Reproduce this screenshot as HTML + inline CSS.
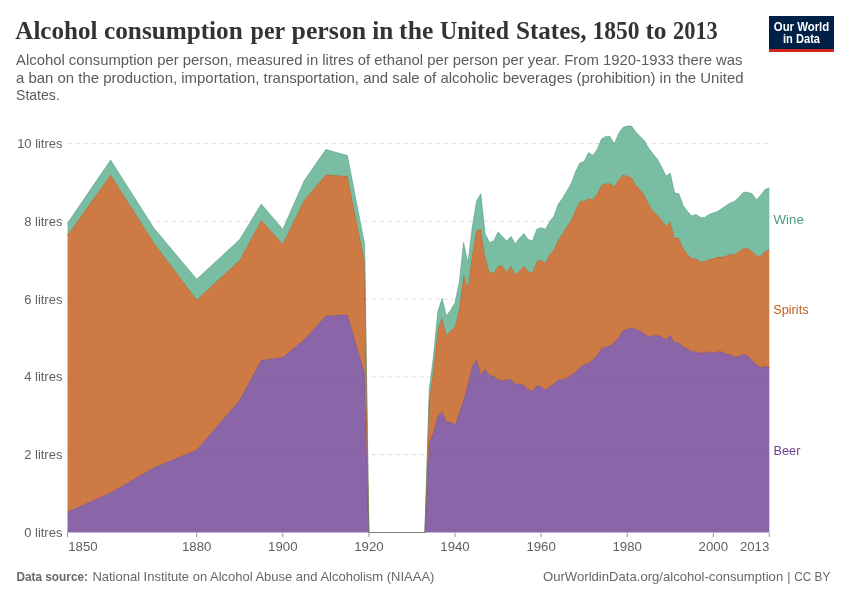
<!DOCTYPE html>
<html lang="en">
<head>
<meta charset="utf-8">
<title>Alcohol consumption per person in the United States, 1850 to 2013</title>
<style>
html,body{margin:0;padding:0;background:#fff;}
body{width:850px;height:600px;overflow:hidden;position:relative;font-family:"Liberation Sans",sans-serif;}
svg{position:absolute;left:0;top:0;display:block;}
text{font-family:"Liberation Sans",sans-serif;}
.title text{font-family:"Liberation Serif",serif;font-weight:bold;font-size:25.4px;fill:#333;}
.sub{font-size:14.6px;fill:#5b5b5b;}
.ax{font-size:13.5px;fill:#606060;}
.ft{font-size:12.4px;fill:#686868;}
.lg{font-size:13.3px;}
</style>
</head>
<body>
<svg width="850" height="600" viewBox="0 0 850 600">
<rect width="850" height="600" fill="#fff"/>
<!-- header -->
<g class="title" id="title">
<text x="15.3" y="38.8" textLength="82.1" lengthAdjust="spacingAndGlyphs">Alcohol</text>
<text x="104.1" y="38.8" textLength="138.6" lengthAdjust="spacingAndGlyphs">consumption</text>
<text x="250.6" y="38.8" textLength="34.7" lengthAdjust="spacingAndGlyphs">per</text>
<text x="291.5" y="38.8" textLength="74.7" lengthAdjust="spacingAndGlyphs">person</text>
<text x="372.3" y="38.8" textLength="21.0" lengthAdjust="spacingAndGlyphs">in</text>
<text x="399.1" y="38.8" textLength="34.2" lengthAdjust="spacingAndGlyphs">the</text>
<text x="440.0" y="38.8" textLength="68.9" lengthAdjust="spacingAndGlyphs">United</text>
<text x="515.9" y="38.8" textLength="70.6" lengthAdjust="spacingAndGlyphs">States,</text>
<text x="592.5" y="38.8" textLength="47.0" lengthAdjust="spacingAndGlyphs">1850</text>
<text x="645.4" y="38.8" textLength="21.2" lengthAdjust="spacingAndGlyphs">to</text>
<text x="673.0" y="38.8" textLength="44.8" lengthAdjust="spacingAndGlyphs">2013</text>
</g>
<text class="sub" x="16" y="64.6" textLength="726.5" lengthAdjust="spacingAndGlyphs">Alcohol consumption per person, measured in litres of ethanol per person per year. From 1920-1933 there was</text>
<text class="sub" x="16" y="82.5" textLength="727.5" lengthAdjust="spacingAndGlyphs">a ban on the production, importation, transportation, and sale of alcoholic beverages (prohibition) in the United</text>
<text class="sub" x="16" y="100.4" textLength="43.8" lengthAdjust="spacingAndGlyphs">States.</text>
<!-- logo -->
<g id="logo">
<rect x="769" y="16" width="65" height="36" fill="#002147"/>
<rect x="769" y="49" width="65" height="3" fill="#ce261e"/>
<text x="801.5" y="30.5" text-anchor="middle" font-size="12.9" font-weight="bold" fill="#fff" textLength="55.4" lengthAdjust="spacingAndGlyphs">Our World</text>
<text x="801.5" y="42.5" text-anchor="middle" font-size="12.9" font-weight="bold" fill="#fff" textLength="37" lengthAdjust="spacingAndGlyphs">in Data</text>
</g>
<!-- grid -->
<g id="grid" stroke="#ddd" stroke-width="1" stroke-dasharray="4.2,3.8" fill="none">
<line x1="67.4" x2="769.3" y1="143.5" y2="143.5"/>
<line x1="67.4" x2="769.3" y1="221.3" y2="221.3"/>
<line x1="67.4" x2="769.3" y1="299.1" y2="299.1"/>
<line x1="67.4" x2="769.3" y1="376.9" y2="376.9"/>
<line x1="67.4" x2="769.3" y1="454.7" y2="454.7"/>
</g>
<!-- areas -->
<g id="areas">
<path d="M67.5,511.9 L110.6,492.7 L153.6,467.7 L196.7,450.0 L239.7,400.0 L261.2,360.2 L282.8,357.3 L304.3,339.6 L325.8,316.0 L347.4,314.6 L364.6,373.5 L368.9,532.5 L424.9,532.5 L429.2,442.7 L433.5,432.4 L437.8,416.2 L442.1,411.8 L446.4,422.1 L450.7,422.1 L455.0,425.0 L459.3,413.2 L463.6,400.0 L467.9,385.2 L472.2,366.1 L476.5,360.2 L480.8,374.9 L485.1,369.0 L489.4,374.9 L493.7,376.4 L498.1,379.4 L502.4,380.8 L506.7,379.4 L511.0,379.4 L515.3,383.8 L519.6,383.8 L523.9,385.2 L528.2,389.7 L532.5,391.1 L536.8,385.2 L541.1,386.7 L545.4,389.7 L549.7,386.7 L554.0,383.8 L558.3,379.4 L562.6,379.4 L566.9,377.9 L571.2,374.9 L575.6,372.0 L579.9,367.6 L584.2,364.6 L588.5,363.2 L592.8,359.5 L597.1,355.8 L601.4,348.4 L605.7,347.0 L610.0,345.5 L614.3,342.5 L618.6,337.4 L622.9,330.8 L627.2,329.3 L631.5,327.8 L635.8,329.3 L640.1,330.8 L644.4,333.7 L648.7,336.7 L653.1,335.2 L657.4,335.2 L661.7,336.7 L666.0,339.6 L670.3,335.2 L674.6,342.5 L678.9,342.5 L683.2,347.0 L687.5,348.4 L691.8,351.4 L696.1,351.4 L700.4,352.9 L704.7,352.9 L709.0,351.4 L713.3,352.9 L717.6,351.4 L721.9,351.4 L726.2,354.3 L730.6,354.3 L734.9,357.3 L739.2,355.8 L743.5,354.3 L747.8,355.8 L752.1,360.2 L756.4,364.6 L760.7,367.6 L765.0,366.1 L769.3,367.6 L769.3,532.5 L765.0,532.5 L760.7,532.5 L756.4,532.5 L752.1,532.5 L747.8,532.5 L743.5,532.5 L739.2,532.5 L734.9,532.5 L730.6,532.5 L726.2,532.5 L721.9,532.5 L717.6,532.5 L713.3,532.5 L709.0,532.5 L704.7,532.5 L700.4,532.5 L696.1,532.5 L691.8,532.5 L687.5,532.5 L683.2,532.5 L678.9,532.5 L674.6,532.5 L670.3,532.5 L666.0,532.5 L661.7,532.5 L657.4,532.5 L653.1,532.5 L648.7,532.5 L644.4,532.5 L640.1,532.5 L635.8,532.5 L631.5,532.5 L627.2,532.5 L622.9,532.5 L618.6,532.5 L614.3,532.5 L610.0,532.5 L605.7,532.5 L601.4,532.5 L597.1,532.5 L592.8,532.5 L588.5,532.5 L584.2,532.5 L579.9,532.5 L575.6,532.5 L571.2,532.5 L566.9,532.5 L562.6,532.5 L558.3,532.5 L554.0,532.5 L549.7,532.5 L545.4,532.5 L541.1,532.5 L536.8,532.5 L532.5,532.5 L528.2,532.5 L523.9,532.5 L519.6,532.5 L515.3,532.5 L511.0,532.5 L506.7,532.5 L502.4,532.5 L498.1,532.5 L493.7,532.5 L489.4,532.5 L485.1,532.5 L480.8,532.5 L476.5,532.5 L472.2,532.5 L467.9,532.5 L463.6,532.5 L459.3,532.5 L455.0,532.5 L450.7,532.5 L446.4,532.5 L442.1,532.5 L437.8,532.5 L433.5,532.5 L429.2,532.5 L424.9,532.5 L368.9,532.5 L364.6,532.5 L347.4,532.5 L325.8,532.5 L304.3,532.5 L282.8,532.5 L261.2,532.5 L239.7,532.5 L196.7,532.5 L153.6,532.5 L110.6,532.5 L67.5,532.5Z" fill="#6d3e91" fill-opacity="0.8" stroke="none"/>
<path d="M67.5,511.9 L110.6,492.7 L153.6,467.7 L196.7,450.0 L239.7,400.0 L261.2,360.2 L282.8,357.3 L304.3,339.6 L325.8,316.0 L347.4,314.6 L364.6,373.5 L368.9,532.5 L424.9,532.5 L429.2,442.7 L433.5,432.4 L437.8,416.2 L442.1,411.8 L446.4,422.1 L450.7,422.1 L455.0,425.0 L459.3,413.2 L463.6,400.0 L467.9,385.2 L472.2,366.1 L476.5,360.2 L480.8,374.9 L485.1,369.0 L489.4,374.9 L493.7,376.4 L498.1,379.4 L502.4,380.8 L506.7,379.4 L511.0,379.4 L515.3,383.8 L519.6,383.8 L523.9,385.2 L528.2,389.7 L532.5,391.1 L536.8,385.2 L541.1,386.7 L545.4,389.7 L549.7,386.7 L554.0,383.8 L558.3,379.4 L562.6,379.4 L566.9,377.9 L571.2,374.9 L575.6,372.0 L579.9,367.6 L584.2,364.6 L588.5,363.2 L592.8,359.5 L597.1,355.8 L601.4,348.4 L605.7,347.0 L610.0,345.5 L614.3,342.5 L618.6,337.4 L622.9,330.8 L627.2,329.3 L631.5,327.8 L635.8,329.3 L640.1,330.8 L644.4,333.7 L648.7,336.7 L653.1,335.2 L657.4,335.2 L661.7,336.7 L666.0,339.6 L670.3,335.2 L674.6,342.5 L678.9,342.5 L683.2,347.0 L687.5,348.4 L691.8,351.4 L696.1,351.4 L700.4,352.9 L704.7,352.9 L709.0,351.4 L713.3,352.9 L717.6,351.4 L721.9,351.4 L726.2,354.3 L730.6,354.3 L734.9,357.3 L739.2,355.8 L743.5,354.3 L747.8,355.8 L752.1,360.2 L756.4,364.6 L760.7,367.6 L765.0,366.1 L769.3,367.6" fill="none" stroke="#5b3479" stroke-width="0.7" stroke-opacity="0.7" stroke-linecap="round"/>
<path d="M67.5,235.1 L110.6,174.7 L153.6,242.4 L196.7,299.8 L239.7,260.1 L261.2,220.3 L282.8,243.9 L304.3,199.7 L325.8,174.7 L347.4,176.1 L364.6,261.6 L368.9,532.5 L424.9,532.5 L429.2,400.0 L433.5,369.0 L437.8,329.3 L442.1,317.5 L446.4,335.2 L450.7,330.8 L455.0,326.3 L459.3,308.7 L463.6,274.8 L467.9,288.1 L472.2,254.2 L476.5,230.6 L480.8,229.2 L485.1,257.1 L489.4,271.9 L493.7,273.3 L498.1,266.0 L502.4,266.0 L506.7,271.9 L511.0,266.0 L515.3,274.8 L519.6,270.4 L523.9,266.0 L528.2,271.3 L532.5,272.5 L536.8,261.4 L541.1,260.1 L545.4,263.0 L549.7,254.2 L554.0,249.8 L558.3,239.5 L562.6,233.6 L566.9,226.2 L571.2,220.3 L575.6,210.0 L579.9,201.2 L584.2,201.2 L588.5,198.5 L592.8,199.4 L597.1,194.1 L601.4,185.3 L605.7,183.5 L610.0,183.5 L614.3,186.5 L618.6,180.0 L622.9,174.7 L627.2,176.1 L631.5,177.6 L635.8,185.0 L640.1,189.4 L644.4,195.3 L648.7,204.1 L653.1,211.0 L657.4,214.9 L661.7,220.3 L666.0,226.2 L670.3,221.8 L674.6,238.0 L678.9,238.0 L683.2,248.3 L687.5,254.2 L691.8,258.6 L696.1,258.6 L700.4,261.6 L704.7,261.6 L709.0,259.3 L713.3,258.6 L717.6,257.1 L721.9,257.1 L726.2,255.7 L730.6,254.2 L734.9,254.2 L739.2,251.2 L743.5,248.3 L747.8,248.3 L752.1,251.2 L756.4,255.7 L760.7,255.7 L765.0,251.2 L769.3,249.8 L769.3,367.6 L765.0,366.1 L760.7,367.6 L756.4,364.6 L752.1,360.2 L747.8,355.8 L743.5,354.3 L739.2,355.8 L734.9,357.3 L730.6,354.3 L726.2,354.3 L721.9,351.4 L717.6,351.4 L713.3,352.9 L709.0,351.4 L704.7,352.9 L700.4,352.9 L696.1,351.4 L691.8,351.4 L687.5,348.4 L683.2,347.0 L678.9,342.5 L674.6,342.5 L670.3,335.2 L666.0,339.6 L661.7,336.7 L657.4,335.2 L653.1,335.2 L648.7,336.7 L644.4,333.7 L640.1,330.8 L635.8,329.3 L631.5,327.8 L627.2,329.3 L622.9,330.8 L618.6,337.4 L614.3,342.5 L610.0,345.5 L605.7,347.0 L601.4,348.4 L597.1,355.8 L592.8,359.5 L588.5,363.2 L584.2,364.6 L579.9,367.6 L575.6,372.0 L571.2,374.9 L566.9,377.9 L562.6,379.4 L558.3,379.4 L554.0,383.8 L549.7,386.7 L545.4,389.7 L541.1,386.7 L536.8,385.2 L532.5,391.1 L528.2,389.7 L523.9,385.2 L519.6,383.8 L515.3,383.8 L511.0,379.4 L506.7,379.4 L502.4,380.8 L498.1,379.4 L493.7,376.4 L489.4,374.9 L485.1,369.0 L480.8,374.9 L476.5,360.2 L472.2,366.1 L467.9,385.2 L463.6,400.0 L459.3,413.2 L455.0,425.0 L450.7,422.1 L446.4,422.1 L442.1,411.8 L437.8,416.2 L433.5,432.4 L429.2,442.7 L424.9,532.5 L368.9,532.5 L364.6,373.5 L347.4,314.6 L325.8,316.0 L304.3,339.6 L282.8,357.3 L261.2,360.2 L239.7,400.0 L196.7,450.0 L153.6,467.7 L110.6,492.7 L67.5,511.9Z" fill="#c05917" fill-opacity="0.8" stroke="none"/>
<path d="M67.5,235.1 L110.6,174.7 L153.6,242.4 L196.7,299.8 L239.7,260.1 L261.2,220.3 L282.8,243.9 L304.3,199.7 L325.8,174.7 L347.4,176.1 L364.6,261.6 L368.9,532.5 L424.9,532.5 L429.2,400.0 L433.5,369.0 L437.8,329.3 L442.1,317.5 L446.4,335.2 L450.7,330.8 L455.0,326.3 L459.3,308.7 L463.6,274.8 L467.9,288.1 L472.2,254.2 L476.5,230.6 L480.8,229.2 L485.1,257.1 L489.4,271.9 L493.7,273.3 L498.1,266.0 L502.4,266.0 L506.7,271.9 L511.0,266.0 L515.3,274.8 L519.6,270.4 L523.9,266.0 L528.2,271.3 L532.5,272.5 L536.8,261.4 L541.1,260.1 L545.4,263.0 L549.7,254.2 L554.0,249.8 L558.3,239.5 L562.6,233.6 L566.9,226.2 L571.2,220.3 L575.6,210.0 L579.9,201.2 L584.2,201.2 L588.5,198.5 L592.8,199.4 L597.1,194.1 L601.4,185.3 L605.7,183.5 L610.0,183.5 L614.3,186.5 L618.6,180.0 L622.9,174.7 L627.2,176.1 L631.5,177.6 L635.8,185.0 L640.1,189.4 L644.4,195.3 L648.7,204.1 L653.1,211.0 L657.4,214.9 L661.7,220.3 L666.0,226.2 L670.3,221.8 L674.6,238.0 L678.9,238.0 L683.2,248.3 L687.5,254.2 L691.8,258.6 L696.1,258.6 L700.4,261.6 L704.7,261.6 L709.0,259.3 L713.3,258.6 L717.6,257.1 L721.9,257.1 L726.2,255.7 L730.6,254.2 L734.9,254.2 L739.2,251.2 L743.5,248.3 L747.8,248.3 L752.1,251.2 L756.4,255.7 L760.7,255.7 L765.0,251.2 L769.3,249.8" fill="none" stroke="#a14a13" stroke-width="0.7" stroke-opacity="0.7" stroke-linecap="round"/>
<path d="M67.5,223.3 L110.6,160.0 L153.6,227.7 L196.7,279.2 L239.7,239.5 L261.2,204.1 L282.8,229.2 L304.3,180.6 L325.8,149.6 L347.4,155.5 L364.6,243.9 L368.9,532.5 L424.9,532.5 L429.2,389.7 L433.5,355.8 L437.8,311.6 L442.1,298.4 L446.4,316.0 L450.7,310.1 L455.0,302.8 L459.3,282.2 L463.6,242.4 L467.9,263.0 L472.2,227.7 L476.5,201.2 L480.8,193.8 L485.1,233.6 L489.4,242.4 L493.7,240.9 L498.1,232.1 L502.4,236.5 L506.7,240.9 L511.0,236.5 L515.3,243.9 L519.6,238.0 L523.9,233.6 L528.2,239.5 L532.5,240.9 L536.8,229.2 L541.1,227.7 L545.4,229.2 L549.7,221.8 L554.0,215.9 L558.3,204.1 L562.6,198.2 L566.9,190.9 L571.2,183.5 L575.6,171.7 L579.9,162.9 L584.2,161.4 L588.5,152.6 L592.8,155.5 L597.1,149.6 L601.4,139.3 L605.7,136.4 L610.0,136.4 L614.3,143.8 L618.6,133.4 L622.9,127.6 L627.2,126.1 L631.5,126.1 L635.8,132.0 L640.1,136.4 L644.4,140.8 L648.7,148.2 L653.1,154.1 L657.4,159.2 L661.7,167.3 L666.0,176.1 L670.3,173.2 L674.6,193.1 L678.9,193.8 L683.2,205.6 L687.5,211.5 L691.8,215.9 L696.1,214.4 L700.4,217.4 L704.7,217.4 L709.0,214.4 L713.3,213.0 L717.6,211.5 L721.9,208.5 L726.2,205.6 L730.6,202.7 L734.9,201.2 L739.2,196.8 L743.5,192.3 L747.8,192.3 L752.1,193.8 L756.4,199.7 L760.7,195.3 L765.0,189.4 L769.3,187.9 L769.3,249.8 L765.0,251.2 L760.7,255.7 L756.4,255.7 L752.1,251.2 L747.8,248.3 L743.5,248.3 L739.2,251.2 L734.9,254.2 L730.6,254.2 L726.2,255.7 L721.9,257.1 L717.6,257.1 L713.3,258.6 L709.0,259.3 L704.7,261.6 L700.4,261.6 L696.1,258.6 L691.8,258.6 L687.5,254.2 L683.2,248.3 L678.9,238.0 L674.6,238.0 L670.3,221.8 L666.0,226.2 L661.7,220.3 L657.4,214.9 L653.1,211.0 L648.7,204.1 L644.4,195.3 L640.1,189.4 L635.8,185.0 L631.5,177.6 L627.2,176.1 L622.9,174.7 L618.6,180.0 L614.3,186.5 L610.0,183.5 L605.7,183.5 L601.4,185.3 L597.1,194.1 L592.8,199.4 L588.5,198.5 L584.2,201.2 L579.9,201.2 L575.6,210.0 L571.2,220.3 L566.9,226.2 L562.6,233.6 L558.3,239.5 L554.0,249.8 L549.7,254.2 L545.4,263.0 L541.1,260.1 L536.8,261.4 L532.5,272.5 L528.2,271.3 L523.9,266.0 L519.6,270.4 L515.3,274.8 L511.0,266.0 L506.7,271.9 L502.4,266.0 L498.1,266.0 L493.7,273.3 L489.4,271.9 L485.1,257.1 L480.8,229.2 L476.5,230.6 L472.2,254.2 L467.9,288.1 L463.6,274.8 L459.3,308.7 L455.0,326.3 L450.7,330.8 L446.4,335.2 L442.1,317.5 L437.8,329.3 L433.5,369.0 L429.2,400.0 L424.9,532.5 L368.9,532.5 L364.6,261.6 L347.4,176.1 L325.8,174.7 L304.3,199.7 L282.8,243.9 L261.2,220.3 L239.7,260.1 L196.7,299.8 L153.6,242.4 L110.6,174.7 L67.5,235.1Z" fill="#58ac8c" fill-opacity="0.8" stroke="none"/>
<path d="M67.5,223.3 L110.6,160.0 L153.6,227.7 L196.7,279.2 L239.7,239.5 L261.2,204.1 L282.8,229.2 L304.3,180.6 L325.8,149.6 L347.4,155.5 L364.6,243.9 L368.9,532.5 L424.9,532.5 L429.2,389.7 L433.5,355.8 L437.8,311.6 L442.1,298.4 L446.4,316.0 L450.7,310.1 L455.0,302.8 L459.3,282.2 L463.6,242.4 L467.9,263.0 L472.2,227.7 L476.5,201.2 L480.8,193.8 L485.1,233.6 L489.4,242.4 L493.7,240.9 L498.1,232.1 L502.4,236.5 L506.7,240.9 L511.0,236.5 L515.3,243.9 L519.6,238.0 L523.9,233.6 L528.2,239.5 L532.5,240.9 L536.8,229.2 L541.1,227.7 L545.4,229.2 L549.7,221.8 L554.0,215.9 L558.3,204.1 L562.6,198.2 L566.9,190.9 L571.2,183.5 L575.6,171.7 L579.9,162.9 L584.2,161.4 L588.5,152.6 L592.8,155.5 L597.1,149.6 L601.4,139.3 L605.7,136.4 L610.0,136.4 L614.3,143.8 L618.6,133.4 L622.9,127.6 L627.2,126.1 L631.5,126.1 L635.8,132.0 L640.1,136.4 L644.4,140.8 L648.7,148.2 L653.1,154.1 L657.4,159.2 L661.7,167.3 L666.0,176.1 L670.3,173.2 L674.6,193.1 L678.9,193.8 L683.2,205.6 L687.5,211.5 L691.8,215.9 L696.1,214.4 L700.4,217.4 L704.7,217.4 L709.0,214.4 L713.3,213.0 L717.6,211.5 L721.9,208.5 L726.2,205.6 L730.6,202.7 L734.9,201.2 L739.2,196.8 L743.5,192.3 L747.8,192.3 L752.1,193.8 L756.4,199.7 L760.7,195.3 L765.0,189.4 L769.3,187.9" fill="none" stroke="#4a9075" stroke-width="0.7" stroke-opacity="0.7" stroke-linecap="round"/>
</g>
<!-- axis -->
<g id="ylabels" class="ax" text-anchor="end">
<text x="62.4" y="148.0" textLength="45.2" lengthAdjust="spacingAndGlyphs">10 litres</text>
<text x="62.4" y="225.8" textLength="38.2" lengthAdjust="spacingAndGlyphs">8 litres</text>
<text x="62.4" y="303.6" textLength="38.2" lengthAdjust="spacingAndGlyphs">6 litres</text>
<text x="62.4" y="381.4" textLength="38.2" lengthAdjust="spacingAndGlyphs">4 litres</text>
<text x="62.4" y="459.2" textLength="38.2" lengthAdjust="spacingAndGlyphs">2 litres</text>
<text x="62.4" y="537.0" textLength="38.2" lengthAdjust="spacingAndGlyphs">0 litres</text>
</g>
<g id="xaxis">
<g stroke="#999" stroke-width="1">
<line x1="67.5" x2="67.5" y1="532.6" y2="537.2"/>
<line x1="196.7" x2="196.7" y1="532.6" y2="537.2"/>
<line x1="282.8" x2="282.8" y1="532.6" y2="537.2"/>
<line x1="368.9" x2="368.9" y1="532.6" y2="537.2"/>
<line x1="455.0" x2="455.0" y1="532.6" y2="537.2"/>
<line x1="541.1" x2="541.1" y1="532.6" y2="537.2"/>
<line x1="627.2" x2="627.2" y1="532.6" y2="537.2"/>
<line x1="713.3" x2="713.3" y1="532.6" y2="537.2"/>
<line x1="769.3" x2="769.3" y1="532.6" y2="537.2"/>
</g>
<g class="ax" text-anchor="middle">
<text x="68.2" y="550.7" text-anchor="start" textLength="29.4" lengthAdjust="spacingAndGlyphs">1850</text>
<text x="196.7" y="550.7" textLength="29.4" lengthAdjust="spacingAndGlyphs">1880</text>
<text x="282.8" y="550.7" textLength="29.4" lengthAdjust="spacingAndGlyphs">1900</text>
<text x="368.9" y="550.7" textLength="29.4" lengthAdjust="spacingAndGlyphs">1920</text>
<text x="455.0" y="550.7" textLength="29.4" lengthAdjust="spacingAndGlyphs">1940</text>
<text x="541.1" y="550.7" textLength="29.4" lengthAdjust="spacingAndGlyphs">1960</text>
<text x="627.2" y="550.7" textLength="29.4" lengthAdjust="spacingAndGlyphs">1980</text>
<text x="713.3" y="550.7" textLength="29.4" lengthAdjust="spacingAndGlyphs">2000</text>
<text x="769.3" y="550.7" text-anchor="end" textLength="29.4" lengthAdjust="spacingAndGlyphs">2013</text>
</g>
</g>
<!-- legend -->
<g class="lg">
<text x="773.6" y="223.6" fill="#4c9d7e" textLength="30.2" lengthAdjust="spacingAndGlyphs">Wine</text>
<text x="773.3" y="313.7" fill="#bf5a1a" textLength="35.2" lengthAdjust="spacingAndGlyphs">Spirits</text>
<text x="773.6" y="454.7" fill="#6d3e91" textLength="26.8" lengthAdjust="spacingAndGlyphs">Beer</text>
</g>
<!-- footer -->
<text class="ft" x="16.4" y="580.6" font-weight="bold" fill="#5e5e5e" textLength="71.6" lengthAdjust="spacingAndGlyphs">Data source:</text>
<text class="ft" x="92.4" y="580.6" textLength="342" lengthAdjust="spacingAndGlyphs">National Institute on Alcohol Abuse and Alcoholism (NIAAA)</text>
<text class="ft" x="543" y="580.6" textLength="240.2" lengthAdjust="spacingAndGlyphs">OurWorldinData.org/alcohol-consumption</text>
<text class="ft" x="788.8" y="580.6" text-anchor="middle">|</text>
<text class="ft" x="794.3" y="580.6" textLength="36" lengthAdjust="spacingAndGlyphs">CC BY</text>
</svg>
</body>
</html>
